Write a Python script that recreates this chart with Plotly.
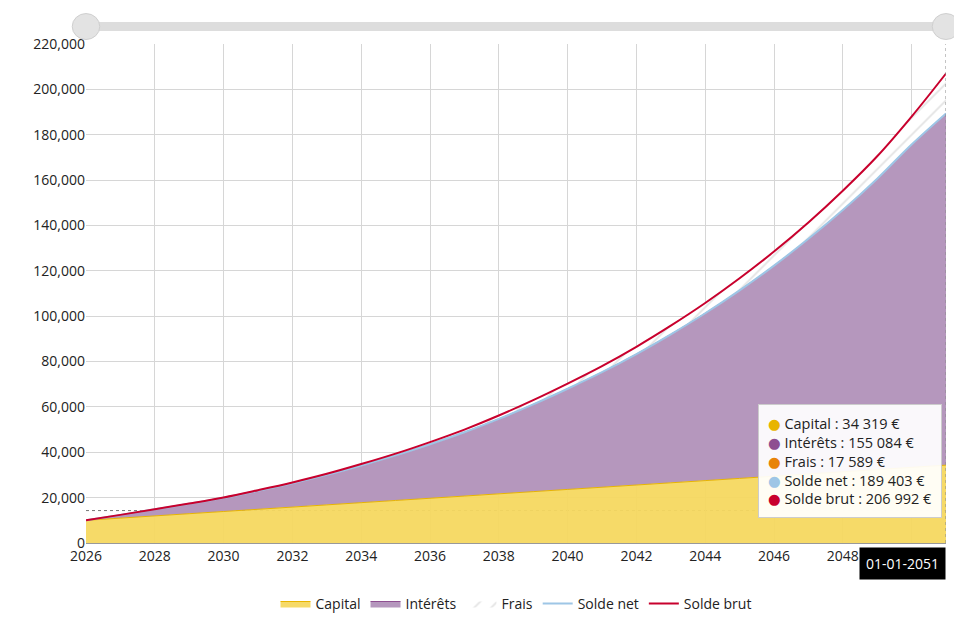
import plotly.graph_objects as go

years = list(range(2026, 2052))
capital = [10000,10973,11946,12918,13891,14864,15837,16810,17782,18755,19728,20701,21674,
           22646,23619,24592,25565,26538,27510,28483,29456,30429,31402,32374,33347,34319]
solde_brut = [10000,12400,14900,17400,20100,23300,26700,30500,34800,39400,44500,50000,56200,
              63000,70300,78000,86500,95800,105800,116700,128500,141300,155300,170500,188000,206992]
solde_net = [10000,12380,14850,17300,19950,23050,26350,30050,34200,38650,43550,48800,54700,
             61100,68000,75300,83300,92000,101300,111400,122300,134100,146800,160600,175700,189403]
interets = [n - c for n, c in zip(solde_net, capital)]
frais = [b - n for b, n in zip(solde_brut, solde_net)]

fig = go.Figure()
fig.add_trace(go.Scatter(x=years, y=capital, name="Capital", stackgroup="a", mode="lines",
                         line=dict(color="#e8b400", width=1, shape="spline"), fillcolor="rgba(246,216,96,0.95)"))
fig.add_trace(go.Scatter(x=years, y=interets, name="Intérêts", stackgroup="a", mode="lines",
                         line=dict(color="#8e4f91", width=1, shape="spline"), fillcolor="rgba(181,151,189,1)"))
fig.add_trace(go.Scatter(x=years, y=frais, name="Frais", stackgroup="a", mode="lines",
                         line=dict(color="#e8830a", width=0, shape="spline"), fillcolor="rgba(255,255,255,0)",
                         fillpattern=dict(shape="/", fgcolor="#c8c8c8", bgcolor="white",
                                          size=12, solidity=0.15)))
fig.add_trace(go.Scatter(x=years, y=solde_net, name="Solde net", mode="lines",
                         line=dict(color="#9ec6e6", width=2, shape="spline")))
fig.add_trace(go.Scatter(x=years, y=solde_brut, name="Solde brut", mode="lines",
                         line=dict(color="#c8002d", width=2, shape="spline")))

font = "Segoe UI, Open Sans, DejaVu Sans, sans-serif"
fig.update_layout(
    width=962, height=626, paper_bgcolor="white", plot_bgcolor="white",
    margin=dict(l=78, r=24, t=36, b=91),
    font=dict(family=font, size=14, color="#222"),
    xaxis=dict(range=[2026, 2051], dtick=2, tick0=2026, showgrid=True, gridcolor="#d6d6d6",
               zeroline=False, showline=True, linecolor="#999", ticks="", tickformat="d"),
    yaxis=dict(range=[0, 220000], dtick=20000, showgrid=True, gridcolor="#d6d6d6",
               tickformat=",d", zeroline=False, ticks=""),
    legend=dict(orientation="h", x=0.5, xanchor="center", y=-0.09, yanchor="top",
                font=dict(size=14), traceorder="normal"),
    showlegend=True,
)
fig.add_shape(type="line", xref="paper", yref="paper", x0=0, x1=1, y0=1.035, y1=1.035,
              line=dict(color="#dddddd", width=9))
for xp in (0, 1):
    fig.add_shape(type="circle", xref="paper", yref="paper", x0=xp-0.016, x1=xp+0.016,
                  y0=1.009, y1=1.061, fillcolor="#e3e3e3", line=dict(color="#cfcfcf", width=1))
fig.add_shape(type="line", x0=2051, x1=2051, y0=0, y1=220000, layer="above",
              line=dict(color="#888", width=1, dash="dot"))
fig.add_shape(type="line", x0=2026, x1=2051, y0=14300, y1=14300, layer="below",
              line=dict(color="#777", width=1, dash="dot"))
fig.add_annotation(x=2051, y=0, yshift=-20, text="01-01-2051", showarrow=False, xanchor="right",
                   bgcolor="black", font=dict(color="white", size=14), borderpad=6)
tip = ("<span style='color:#e8b400'>●</span> Capital : 34 319 €<br>"
       "<span style='color:#8e4f91'>●</span> Intérêts : 155 084 €<br>"
       "<span style='color:#e8830a'>●</span> Frais : 17 589 €<br>"
       "<span style='color:#9ec6e6'>●</span> Solde net : 189 403 €<br>"
       "<span style='color:#c8002d'>●</span> Solde brut : 206 992 €")
fig.add_annotation(x=2051, y=36000, xshift=-4, text=tip, showarrow=False, xanchor="right",
                   align="left", bgcolor="rgba(255,255,255,0.93)", bordercolor="#ccc",
                   borderwidth=1, borderpad=9, font=dict(size=14.5, color="#222"))
fig.write_html("out.html")
